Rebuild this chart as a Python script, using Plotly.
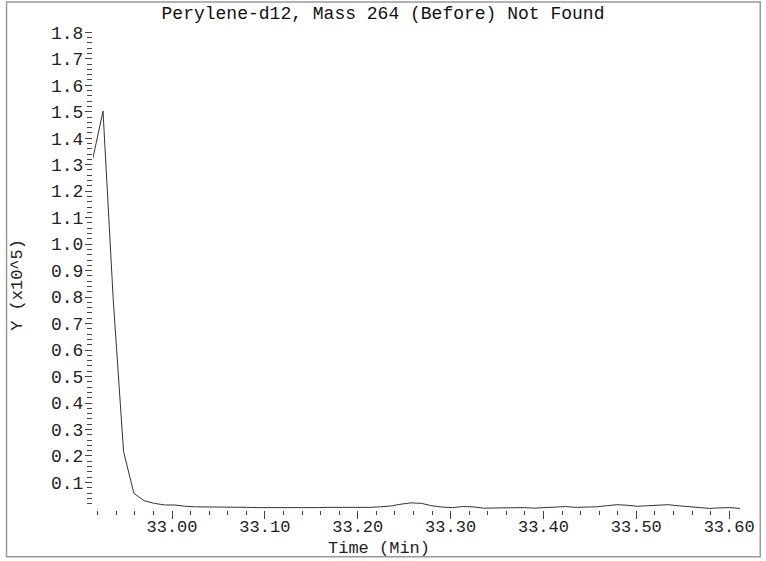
import plotly.graph_objects as go

# scan times (min) and abundance (x10^5)
tempo = [32.9146, 32.9257, 32.9367, 32.9478, 32.9589, 32.9699, 32.9810, 32.9921,
         33.0031, 33.0142, 33.0253, 33.0363, 33.0474, 33.0585, 33.0695, 33.0806,
         33.0917, 33.1027, 33.1138, 33.1249, 33.1359, 33.1470, 33.1580, 33.1691,
         33.1802, 33.1912, 33.2023, 33.2134, 33.2244, 33.2355, 33.2466, 33.2576,
         33.2687, 33.2798, 33.2908, 33.3019, 33.3130, 33.3240, 33.3351, 33.3462,
         33.3572, 33.3683, 33.3794, 33.3904, 33.4015, 33.4126, 33.4236, 33.4347,
         33.4458, 33.4568, 33.4679, 33.4790, 33.4900, 33.5011, 33.5122, 33.5232,
         33.5343, 33.5454, 33.5564, 33.5675, 33.5786, 33.5896, 33.6007, 33.6117]
abundancia = [1.322, 1.502, 0.790, 0.217, 0.059, 0.031, 0.021, 0.015,
              0.015, 0.010, 0.008, 0.008, 0.008, 0.008, 0.007, 0.006,
              0.005, 0.005, 0.004, 0.003, 0.004, 0.005, 0.005, 0.006,
              0.006, 0.005, 0.005, 0.006, 0.008, 0.011, 0.018, 0.023,
              0.021, 0.012, 0.007, 0.005, 0.009, 0.008, 0.003, 0.004,
              0.004, 0.005, 0.005, 0.003, 0.005, 0.009, 0.009, 0.006,
              0.006, 0.008, 0.012, 0.016, 0.014, 0.010, 0.012, 0.015,
              0.016, 0.012, 0.008, 0.004, 0.002, 0.004, 0.005, 0.002]

x_ticks = [33.0, 33.1, 33.2, 33.3, 33.4, 33.5, 33.6]
x_labels = ["33.00", "33.10", "33.20", "33.30", "33.40", "33.50", "33.60"]
x_minor = [round(32.92 + 0.02 * i, 2) for i in range(35)]
y_ticks = [round(0.1 * i, 1) for i in range(1, 19)]
y_labels = [f"{v:.1f}" for v in y_ticks]
y_minor = [round(0.02 * i, 2) for i in range(1, 91)]

fonte = "Liberation Mono, DejaVu Sans Mono, monospace"

fig = go.Figure(go.Scatter(x=tempo, y=abundancia, mode="lines",
                           line=dict(color="#333333", width=1),
                           hoverinfo="x+y", showlegend=False))

fig.update_layout(
    width=766, height=561,
    margin=dict(l=93, r=14, t=27, b=51),
    paper_bgcolor="white", plot_bgcolor="white",
    font=dict(family=fonte, size=18, color="#222222"),
    title=dict(text="Perylene-d12, Mass 264 (Before) Not Found",
               x=0.5, xanchor="center", y=0.977, yanchor="middle",
               font=dict(family=fonte, size=18, color="#111111")),
)

fig.update_xaxes(range=[32.9149, 33.616], showgrid=False, zeroline=False, showline=False,
                 tickmode="array", tickvals=x_ticks, ticktext=x_labels,
                 ticks="outside", ticklen=8, tickcolor="#444444", tickwidth=1,
                 ticklabelstandoff=-7, tickfont=dict(size=17),
                 minor=dict(tickmode="array", tickvals=x_minor, ticks="outside",
                            ticklen=4, tickcolor="#444444", tickwidth=1, showgrid=False))
fig.update_yaxes(range=[-0.004, 1.82], showgrid=False, zeroline=False, showline=False,
                 tickmode="array", tickvals=y_ticks, ticktext=y_labels,
                 ticks="outside", ticklen=7, tickcolor="#444444", tickwidth=1,
                 ticklabelstandoff=-2,
                 minor=dict(tickmode="array", tickvals=y_minor, ticks="outside",
                            ticklen=5, tickcolor="#444444", tickwidth=1, showgrid=False))

fig.add_annotation(text="Time (Min)", xref="paper", yref="paper",
                   x=0.44, y=-0.079, showarrow=False, xanchor="center", yanchor="middle",
                   font=dict(family=fonte, size=17, color="#222222"))
fig.add_annotation(text="Y (x10^5)", xref="paper", yref="paper", textangle=-90,
                   x=-0.1153, y=0.466, showarrow=False, xanchor="center", yanchor="middle",
                   font=dict(family=fonte, size=17, color="#222222"))

# moldura cinza em volta de tudo
fig.add_shape(type="rect", xref="paper", yref="paper",
              x0=-0.1328, x1=1.025, y0=-0.097, y1=1.0516,
              line=dict(color="#999999", width=1.5))

# tira a margem padrao do body pra figura ficar colada no canto
fig.write_html("out.html", config={"displayModeBar": False},
               post_script="document.body.style.margin='0';")
